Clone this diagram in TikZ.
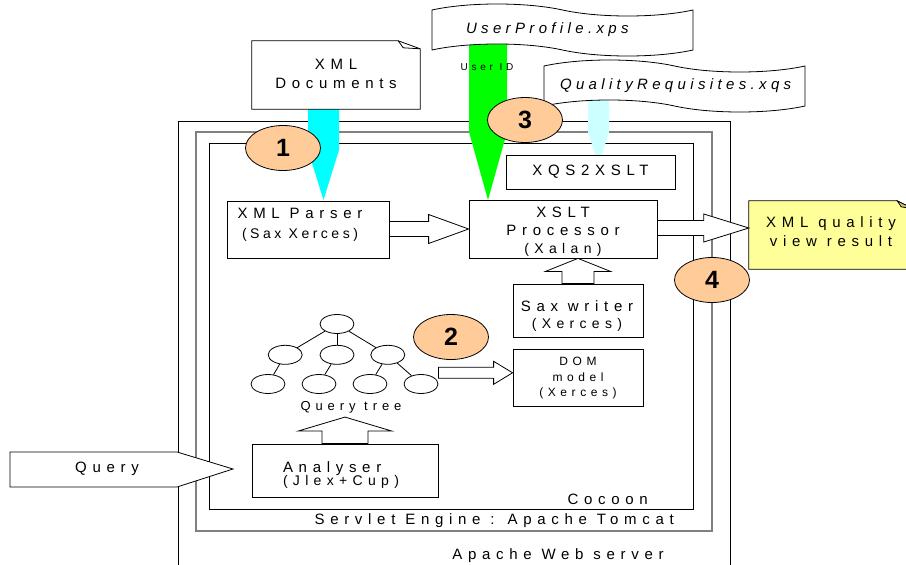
\documentclass[tikz,border=0pt]{standalone}
\usepackage{fontspec}
\setmainfont{Liberation Sans}[LetterSpace=38]
\usepackage{tikz}
\usetikzlibrary{positioning,calc,shapes.geometric,shapes.symbols}
\definecolor{peach}{HTML}{FFCC99}
\definecolor{aqua}{HTML}{00FFFF}
\definecolor{paleaqua}{HTML}{CCFFFF}
\definecolor{lime}{HTML}{00FF00}
\definecolor{notey}{HTML}{FFFF99}
\definecolor{notefold}{HTML}{CCCC66}
\definecolor{framegray}{HTML}{808080}
\newcommand{\paren}[1]{{\fontsize{14}{14}\selectfont #1}}
\newcommand{\tightlines}{\lineskiplimit=-20pt\relax}
\tikzset{
  lbl/.style={inner sep=0pt, font=\fontsize{15}{18}\selectfont},
  nodebox/.style={draw, line width=0.8pt, fill=white, inner sep=0pt, align=center, font=\fontsize{15}{18}\selectfont},
  frameline/.style={line width=0.8pt},
  stepnum/.style={ellipse, draw, line width=0.8pt, fill=peach, minimum width=75pt, minimum height=45pt, inner sep=0pt, font=\fontsize{25}{25}\selectfont\bfseries},
  leaf/.style={ellipse, draw, line width=0.8pt, fill=white, minimum width=34pt, minimum height=19pt, inner sep=0pt},
  banner/.style={tape, draw, fill=white, line width=0.8pt, tape bend top=out and in, tape bend bottom=out and in, tape bend height=12pt, align=left, inner ysep=0pt, font=\fontsize{15}{18}\selectfont\itshape\addfontfeature{LetterSpace=29}},
  blk/.style={draw, line width=0.8pt, fill=white},
  feed/.style n args={3}{fill=#3, to path={let \p1=(\tikztostart), \p2=(\tikztotarget) in (\x2-#1,\y1) -- (\x2+#1,\y1) -- (\x2+#1,\y1-#2) -- (\p2) -- (\x2-#1,\y1-#2) -- cycle}},
  blkR/.style n args={3}{to path={let \p1=(\tikztostart), \p2=(\tikztotarget) in (\x1,\y2+#1) -- (\x2-#3,\y2+#1) -- (\x2-#3,\y2+#2) -- (\p2) -- (\x2-#3,\y2-#2) -- (\x2-#3,\y2-#1) -- (\x1,\y2-#1) -- cycle}},
  blkU/.style n args={3}{to path={let \p1=(\tikztostart), \p2=(\tikztotarget) in (\x1+#1,\y1) -- (\x1+#1,\y2-#3) -- (\x1+#2,\y2-#3) -- (\x1,\y2) -- (\x1-#2,\y2-#3) -- (\x1-#1,\y2-#3) -- (\x1-#1,\y1) -- cycle}}
}

\begin{document}
\begin{tikzpicture}[x=1pt, y=-1pt, node distance=12pt]
  \useasboundingbox (0,0) rectangle (906,565);

  % server frames
  \draw[frameline] (178,565) |- (730,121) -- (730,565);
  \draw[frameline, draw=framegray, line width=1.5pt] (196,132) rectangle (712,531);
  \draw[frameline] (209,143) rectangle (693,509);
  \node[lbl, anchor=east] (cocoon) at (648,499) {Cocoon};
  \node[lbl, anchor=east] (tomcat) at (674,521) {Servlet Engine : Apache Tomcat};
  \node[lbl] (apache) at (558,556) {Apache Web server};

  % query input
  \draw[blk] (10,452) -- (177,452) -- (233,469) -- (177,487) -- (10,487) -- cycle;
  \node[lbl] (query) at (107,469) {Query};

  % input feeds
  \coordinate (docsFoot) at (323.5,109);
  \coordinate (feed1) at (323.5,200);
  \coordinate (profFoot) at (488,40);
  \coordinate (feed3) at (488,200);
  \coordinate (reqFoot) at (598.5,98);
  \coordinate (feed3b) at (598.5,165);
  \path[feed={15.5}{41}{aqua}] (docsFoot) to (feed1);
  \path[feed={19}{92}{lime}] (profFoot) to (feed3);
  \path[feed={10.5}{34}{paleaqua}] (reqFoot) to (feed3b);
  \node[lbl, font=\fontsize{10}{10}\selectfont] (uid) at (487,67) {User ID};

  % banners
  \node[banner, minimum width=261pt, minimum height=52pt, text width=193pt, inner xsep=34pt] (userProf) at (562.5,30) {UserProfile.xps};
  \node[banner, minimum width=261pt, minimum height=52pt, text width=229pt, inner xsep=16pt] (qualReq) at (674.5,86) {QualityRequisites.xqs};

  % documents
  \node[lbl, minimum width=168pt, minimum height=68pt] (docs) at (336,75) {};
  \draw[frameline, fill=white] (docs.south west) |- ($(docs.north east)+(-22,0)$) -- ($(docs.north east)+(0,8)$) -- (docs.south east) -- cycle;
  \draw[frameline] ($(docs.north east)+(-22,0)$) -- ($(docs.north east)+(-17,7)$) -- ($(docs.north east)+(0,8)$);
  \node[lbl, align=center, font=\fontsize{15}{19}\selectfont] (docsTxt) at (336,74) {XML\\Documents};

  % processing boxes
  \node[nodebox, minimum width=162pt, minimum height=57pt] (parser) at (308,229.5) {};
  \node[lbl, align=center, font=\fontsize{15}{20}\selectfont] (parserTxt) at (300,225) {XML Parser\\{\fontsize{14}{14}\selectfont\addfontfeature{LetterSpace=25}(Sax Xerces)}};
  \node[nodebox, minimum width=188pt, minimum height=58pt] (xslt) at (563,229) {};
  \node[lbl, align=center] (xsltTxt) at (563,232) {XSLT\\Processor\\\paren{(Xalan)}};
  \node[nodebox, minimum width=169pt, minimum height=34pt] (xqs) at (590.5,172) {XQS2XSLT};
  \node[nodebox, minimum width=130pt, minimum height=53pt] (saxW) at (578,310.5) {};
  \node[lbl, align=center, font=\fontsize{15}{17}\selectfont] (saxTxt) at (577,316) {Sax writer\\\paren{(Xerces)}};
  \node[nodebox, minimum width=130pt, minimum height=57pt, below=12pt of saxW, font=\fontsize{12}{15.5}\selectfont] (dom) {DOM\\model\\(Xerces)};
  \node[nodebox, minimum width=186pt, minimum height=53pt] (analyser) at (345,470.5) {};
  \node[lbl, align=left, font=\fontsize{15}{13}\selectfont\tightlines] (analyserTxt) at (341,475) {Analyser\\\paren{(Jlex+Cup)}};

  % result note
  \node[lbl, minimum width=164pt, minimum height=68pt] (result) at (831,235) {};
  \draw[frameline, fill=notey] (result.south west) |- ($(result.north east)+(-16,0)$) -- ($(result.north east)+(0,8)$) -- (result.south east) -- cycle;
  \draw[frameline, fill=notefold] ($(result.north east)+(-16,0)$) -- ($(result.north east)+(-12,6)$) -- ($(result.north east)+(0,8)$) -- cycle;
  \node[lbl, align=center, font=\fontsize{15}{19}\selectfont] (resultTxt) at (831,232) {XML quality\\view result};

  % query tree
  \node[leaf] (t0) at (337,324) {};
  \node[leaf, below=11pt of t0] (t2) {};
  \node[leaf, left=17pt of t2] (t1) {};
  \node[leaf, right=16pt of t2] (t3) {};
  \node[leaf] (t11) at (268,384) {};
  \node[leaf] (t21) at (319,384) {};
  \node[leaf] (t31) at (370,384) {};
  \node[leaf] (t32) at (421,384) {};
  \draw[frameline] (t0) -- (t1);
  \draw[frameline] (t0) -- (t2);
  \draw[frameline] (t0) -- (t3);
  \draw[frameline] (t1) -- (t11);
  \draw[frameline] (t2) -- (t21);
  \draw[frameline] (t3) -- (t31);
  \draw[frameline] (t3) -- (t32);
  \node[lbl, inner sep=4pt, font=\fontsize{13}{13}\selectfont] (treeLbl) at (351,407) {Query tree};

  % block arrows
  \coordinate (resIn) at ($(result.west)+(0,-7)$);
  \coordinate (domIn) at ($(dom.west)+(0,-5.5)$);
  \draw[blk, blkR={7.5}{14.5}{40}] (parser.east) to (xslt.west);
  \draw[blk, blkR={7.5}{14}{45}] (xslt.east) to (resIn);
  \draw[blk, blkR={5.5}{11.5}{19}] (t32.east) to (domIn);
  \draw[blk, blkU={16}{32.5}{13}] (saxW.north) to (xslt.south);
  \draw[blk, blkU={23}{47}{14}] (analyser.north) to (treeLbl.south);

  % step markers
  \node[stepnum] (s1) at (283,148) {1};
  \node[stepnum] (s2) at (451,337) {2};
  \node[stepnum] (s3) at (525,120) {3};
  \node[stepnum] (s4) at (712,280) {4};
\end{tikzpicture}
\end{document}
